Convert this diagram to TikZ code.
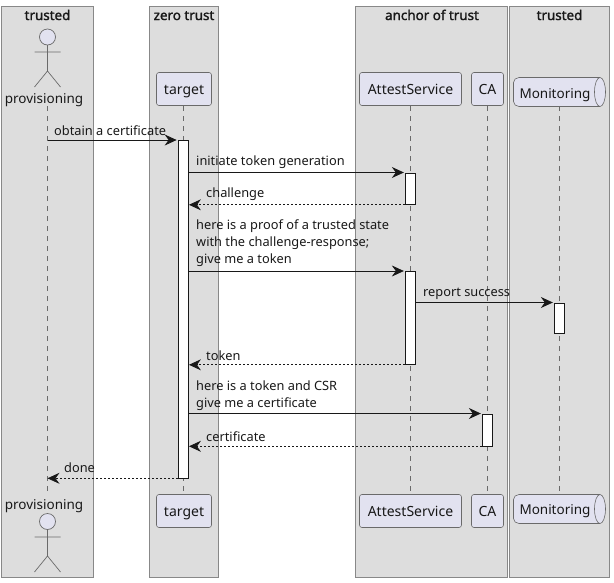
\documentclass[tikz,border=0pt]{standalone}
\usepackage{fontspec}
\setmainfont{Noto Sans}
\newfontfamily\grpfont[FakeBold=1.6]{Noto Sans}
\usetikzlibrary{arrows.meta,calc}
\definecolor{grp}{HTML}{DDDDDD}
\definecolor{grpline}{HTML}{888888}
\definecolor{part}{HTML}{E2E2F0}
\definecolor{ink}{HTML}{181818}
\definecolor{partline}{HTML}{6A6A6A}
\tikzset{
  x=1pt,y=-1pt,
  grpbox/.style={draw=grpline,fill=grp,line width=1pt,sharp corners},
  grptitle/.style={font=\grpfont\fontsize{13.4}{15}\selectfont,text=ink,inner sep=0pt,anchor=base},
  partbox/.style={draw=partline,fill=part,line width=0.6pt,rounded corners=2.5pt,inner sep=0pt,font=\fontsize{14}{17}\selectfont,text=ink,minimum height=33pt,text height=10pt,text depth=0pt,anchor=center},
  actorlabel/.style={font=\fontsize{13.5}{17}\selectfont,text=ink,inner sep=0pt,anchor=base},
  lifeline/.style={draw=partline,line width=0.7pt,dash pattern=on 5pt off 5pt},
  actorshape/.style={draw=partline,line width=0.7pt},
  actbox/.style={draw=ink,fill=white,line width=0.8pt,inner sep=0pt,minimum width=10.5pt,anchor=north},
  msg/.style={draw=ink,line width=0.8pt,-{Stealth[length=12pt,width=11pt,inset=4pt,fill=ink]}},
  ret/.style={msg,dash pattern=on 2pt off 2pt},
  msgtext/.style={font=\fontsize{12.8}{17}\selectfont,text=ink,inner sep=0pt,align=left},
}
\begin{document}
\begin{tikzpicture}
\useasboundingbox (0,0) rectangle (614,582);
% groups
\path[grpbox] (1.5,6) rectangle (93.5,577);
\path[grpbox] (149.5,6) rectangle (218.5,577);
\path[grpbox] (355.5,6) rectangle (507.5,577);
\path[grpbox] (509.5,6) rectangle (609.5,577);
\node[grptitle] (g1) at (47.5,20) {trusted};
\node[grptitle] (g2) at (184,20) {zero trust};
\node[grptitle] (g3) at (432,20) {anchor of trust};
\node[grptitle] (g4) at (559.5,20) {trusted};
% lifeline ends
\coordinate (provT) at (47.5,106); \coordinate (provB) at (47.5,492);
\coordinate (targT) at (183,106);  \coordinate (targB) at (183,494);
\coordinate (attT) at (410.5,106); \coordinate (attB) at (410.5,494);
\coordinate (caT) at (487.5,106);  \coordinate (caB) at (487.5,494);
\coordinate (monT) at (559.5,106); \coordinate (monB) at (559.5,494);
\draw[lifeline] (provT) -- (provB);
\draw[lifeline] (targT) -- (targB);
\draw[lifeline] (attT) -- (attB);
\draw[lifeline] (caT) -- (caB);
\draw[lifeline] (monT) -- (monB);
% participants
\node[partbox,minimum width=55pt] (targetA) at (184,89) {target};
\node[partbox,minimum width=55pt] (targetB) at (184,511) {target};
\node[partbox,minimum width=102pt] (attestA) at (410.5,89) {AttestService};
\node[partbox,minimum width=102pt] (attestB) at (410.5,511) {AttestService};
\node[partbox,minimum width=32pt] (caA) at (487.5,89) {CA};
\node[partbox,minimum width=32pt] (caB2) at (487.5,511) {CA};
% queue shapes
\path[draw=partline,fill=part,line width=0.6pt,rounded corners=0pt] (519,77.5) -- (600,77.5) arc[start angle=90,end angle=-90,x radius=5.5pt,y radius=14.5pt] -- (519,106.5) arc[start angle=-90,end angle=-180,x radius=5.5pt,y radius=5pt] -- (513.5,82.5) arc[start angle=180,end angle=90,x radius=5.5pt,y radius=5pt] -- cycle;
\draw[partline,line width=0.6pt] (600,77.5) arc[start angle=90,end angle=270,x radius=5.5pt,y radius=14.5pt];
\node[actorlabel] (monA) at (555,98) {Monitoring};
\path[draw=partline,fill=part,line width=0.6pt] (519,494.5) -- (600,494.5) arc[start angle=90,end angle=-90,x radius=5.5pt,y radius=14.5pt] -- (519,523.5) arc[start angle=-90,end angle=-180,x radius=5.5pt,y radius=5pt] -- (513.5,499.5) arc[start angle=180,end angle=90,x radius=5.5pt,y radius=5pt] -- cycle;
\draw[partline,line width=0.6pt] (600,494.5) arc[start angle=90,end angle=270,x radius=5.5pt,y radius=14.5pt];
\node[actorlabel] (monB2) at (555,514) {Monitoring};
% actors
\draw[actorshape,fill=part] (47.5,37) circle[radius=8pt];
\draw[actorshape] (47.5,45) -- (47.5,71) (34.5,52) -- (60.5,52) (34.5,87) -- (47.5,71) -- (60.5,87);
\node[actorlabel] (provA) at (44,103) {provisioning};
\draw[actorshape,fill=part] (47.5,521.5) circle[radius=8pt];
\draw[actorshape] (47.5,529.5) -- (47.5,556) (34.5,537) -- (60.5,537) (34.5,572) -- (47.5,556) -- (60.5,572);
\node[actorlabel] (provB2) at (44,509) {provisioning};
% activations
\node[actbox,minimum height=337.5pt] (act1) at (183.3,140) {};
\node[actbox,minimum height=31.5pt] (act2) at (410.5,172.5) {};
\node[actbox,minimum height=93pt] (act3) at (410.5,271) {};
\node[actbox,minimum height=30pt] (act4) at (559.5,302.5) {};
\node[actbox,minimum height=32pt] (act5) at (487.5,413.5) {};
% messages
\draw[msg] (provT |- act1.north) -- ([xshift=-1pt]act1.north west);
\draw[msg] (act1.east |- act2.north) -- ([xshift=-1pt]act2.north west);
\draw[ret] (act2.south west) -- (act1.east |- act2.south);
\draw[msg] (act1.east |- act3.north) -- ([xshift=-1pt]act3.north west);
\draw[msg] (act3.east |- act4.north) -- ([xshift=-1pt]act4.north west);
\draw[ret] (act3.south west) -- (act1.east |- act3.south);
\draw[msg] (act1.east |- act5.north) -- ([xshift=-1pt]act5.north west);
\draw[ret] (act5.south west) -- (act1.east |- act5.south);
\draw[ret] (act1.south west) -- (provT |- act1.south);
% labels
\node[msgtext,anchor=west] (t1) at (54,131) {obtain a certificate};
\node[msgtext,anchor=west] (t2) at (196,162.5) {initiate token generation};
\node[msgtext,anchor=west] (t3) at (206,194.5) {challenge};
\node[msgtext,anchor=west] (t4) at (196,243.5) {here is a proof of a trusted state\\with the challenge-response;\\give me a token};
\node[msgtext,anchor=west] (t5) at (423,293.5) {report success};
\node[msgtext,anchor=west] (t6) at (206,355.5) {token};
\node[msgtext,anchor=west] (t7) at (196,395.5) {here is a token and CSR\\give me a certificate};
\node[msgtext,anchor=west] (t8) at (206,436.5) {certificate};
\node[msgtext,anchor=west] (t9) at (64,467.5) {done};
\end{tikzpicture}
\end{document}
